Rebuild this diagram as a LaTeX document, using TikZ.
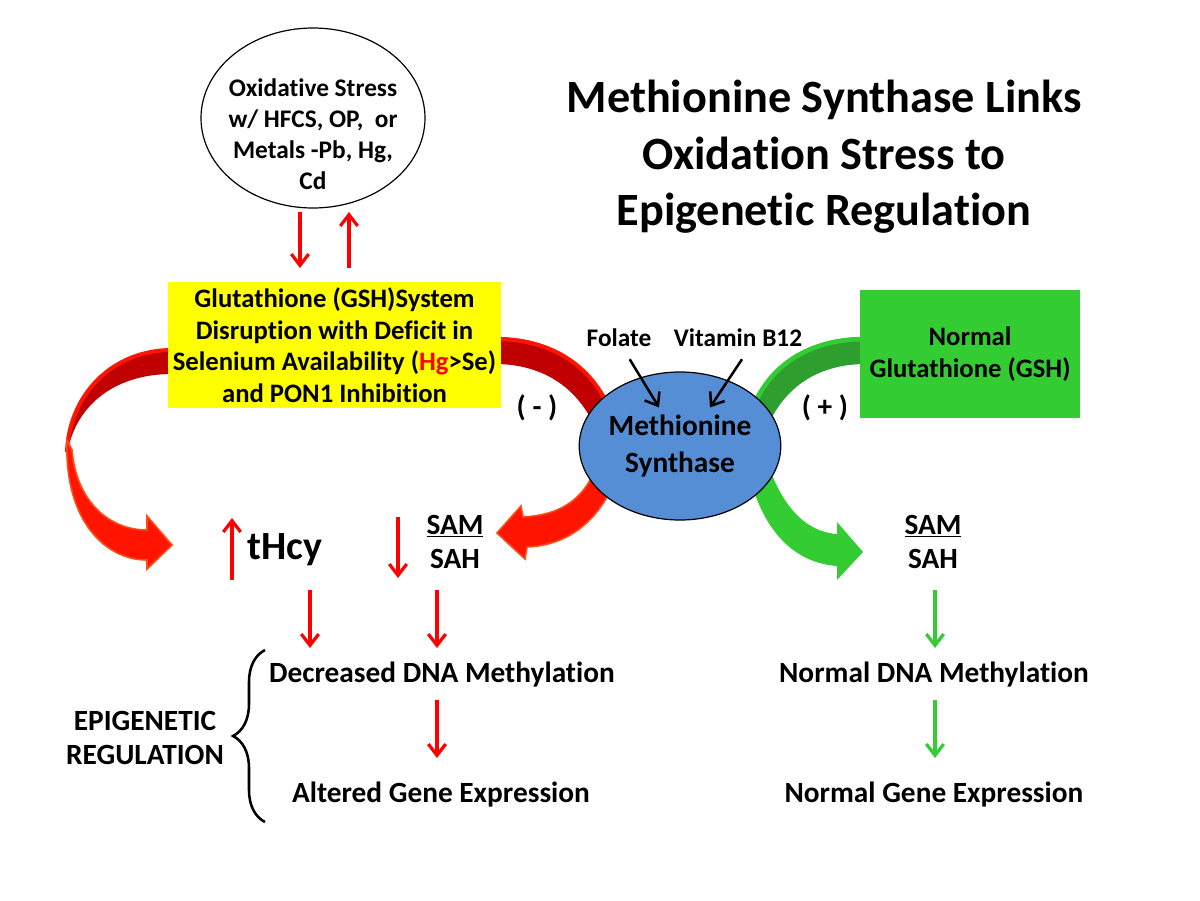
\documentclass[tikz,border=0pt]{standalone}
\usepackage{fontspec}
\setmainfont{Carlito}[Ligatures=NoCommon]
\usetikzlibrary{shapes.geometric,arrows.meta,decorations.pathreplacing}

\definecolor{arrred}{HTML}{FF0000}
\definecolor{arrgrn}{HTML}{33CC33}
\definecolor{ribdark}{HTML}{C00000}
\definecolor{ribred}{HTML}{FF1400}
\definecolor{ribrim}{HTML}{FF4B12}
\definecolor{grndark}{HTML}{2E9E2E}
\definecolor{gshyellow}{HTML}{FFFF00}
\definecolor{gshgreen}{HTML}{33CC33}
\definecolor{msblue}{HTML}{558ED5}

\tikzset{
  txt/.style={font=\bfseries\fontsize{22}{26}\selectfont, align=center, inner sep=0pt},
  boxtxt/.style={font=\bfseries\fontsize{20}{23.6}\selectfont, align=center, inner sep=0pt},
  smalltxt/.style={font=\bfseries\fontsize{19}{23.25}\selectfont, align=center, inner sep=0pt},
  redarr/.style={draw=arrred, line width=2.4pt, -{Straight Barb[length=8.5pt,width=13pt]}},
  grnarr/.style={redarr, draw=arrgrn},
  blkarr/.style={redarr, draw=black, line width=1.9pt},
  ribback/.style={fill=ribdark},
  ribfront/.style={fill=ribred, draw=ribrim, line width=1.2pt},
  ribedge/.style={draw=ribred, line width=3pt},
  grnback/.style={fill=grndark},
  grnfront/.style={fill=gshgreen},
  grnedge/.style={draw=gshgreen, line width=3.5pt}
}

\begin{document}
\begin{tikzpicture}[x=0.75pt,y=-0.75pt]

 \fill[white] (0,0) rectangle (1200,900);
 \useasboundingbox (0,0) rectangle (1200,900);

 \fill[ribback] (172,349) .. controls (112,349) and (69,395) .. (67,455) .. controls (74,408) and (112,374) .. (172,374) -- cycle;
 \draw[ribedge] (172,350) .. controls (112,350) and (69,395) .. (67,452);
 \filldraw[ribfront] (67,440) .. controls (64,520) and (105,560) .. (147,560) -- (147,569) -- (172,545) -- (147,516) -- (147,530) .. controls (108,530) and (76,500) .. (72,450) -- cycle;

 \fill[ribback] (495,337) .. controls (560,337) and (602,372) .. (618,430) -- (596,430) .. controls (580,390) and (545,364) .. (495,364) -- cycle;
 \draw[ribedge] (495,339) .. controls (560,339) and (602,374) .. (617,430);
 \filldraw[ribfront] (600,455) .. controls (588,500) and (560,515) .. (523,517) -- (521,506) -- (497,533) -- (525,559) -- (527,547) .. controls (575,545) and (608,512) .. (622,460) -- cycle;

 \fill[grnback] (866,337) .. controls (800,337) and (758,372) .. (745,430) -- (766,430) .. controls (782,390) and (815,364) .. (866,364) -- cycle;
 \draw[grnedge] (866,339) .. controls (800,339) and (758,374) .. (746,430);
 \fill[grnfront] (765,455) .. controls (780,505) and (805,532) .. (837,534) -- (837,522) -- (863,552) -- (837,580) -- (837,566) .. controls (795,563) and (762,532) .. (748,470) -- cycle;

 \node[draw=black, line width=0.9pt, fill=white, ellipse, minimum width=168pt, minimum height=135pt] (ox) at (313,118) {};

 \node[smalltxt] (oxt) at (313,134) {Oxidative Stress\\w/ HFCS, OP,~ or\\Metals -Pb, Hg,\\Cd};

 \node[font=\bfseries\fontsize{34.7}{42.4}\selectfont, align=center, inner sep=0pt] (ttl) at (824,157) {Methionine Synthase Links\\Oxidation Stress to\\Epigenetic Regulation};

 \node[boxtxt, fill=gshyellow, minimum width=249.75pt, minimum height=94.5pt] (gsh) at (334.5,345) {Glutathione (GSH)System\\Disruption with Deficit in\\Selenium Availability (\textcolor{arrred}{Hg}>Se)\\and PON1 Inhibition};

 \node[boxtxt, fill=gshgreen, minimum width=165pt, minimum height=96pt] (ngsh) at (970,354) {Normal\\Glutathione (GSH)};

 \node[txt, font=\bfseries\fontsize{22}{27.75}\selectfont, ellipse, draw=black, line width=0.9pt, fill=msblue, minimum width=150pt, minimum height=111pt] (ms) at (680,446) {Methionine\\Synthase};

 \node[smalltxt] (fol) at (619,338) {Folate};
 \node[smalltxt] (vit) at (738,338) {Vitamin B12};

 \node[txt] (neg) at (537,408) {( - )};
 \node[txt] (pos) at (825,408) {( + )};

 \node[txt, font=\bfseries\fontsize{30}{36}\selectfont] (thcy) at (285,550) {tHcy};

 \node[txt] (saml) at (455,542) {\underline{SAM}\\SAH};
 \node[txt] (samr) at (933,542) {\underline{SAM}\\SAH};

 \node[txt] (decr) at (442,675) {Decreased DNA Methylation};
 \node[txt] (altr) at (441,795) {Altered Gene Expression};

 \node[txt] (normd) at (934,675) {Normal DNA Methylation};
 \node[txt] (normg) at (934,795) {Normal Gene Expression};

 \node[txt] (epi) at (145,738) {EPIGENETIC\\REGULATION};

 \coordinate (xdn) at (300,0);
 \coordinate (xup) at (349,0);
 \coordinate (xh) at (310,0);
 \coordinate (xs) at (437,0);
 \coordinate (xn) at (935,0);
 \coordinate (upa) at (232,580);
 \coordinate (upb) at (232,518);
 \coordinate (dna) at (398,517);
 \coordinate (dnb) at (398,578);

 \draw[redarr, shorten <=70.5pt, shorten >=57.75pt] (ox -| xdn) -- (gsh -| xdn);
 \draw[redarr, shorten <=57.75pt, shorten >=70.5pt] (gsh -| xup) -- (ox -| xup);
 \draw[blkarr] ([xshift=8pt,yshift=-9pt]fol.south) -- ([xshift=-15.75pt,yshift=-27pt]ms.north);
 \draw[blkarr] ([xshift=3pt,yshift=-9pt]vit.south) -- ([xshift=22.5pt,yshift=-27pt]ms.north);
 \draw[redarr] (upa) -- (upb);
 \draw[redarr] (dna) -- (dnb);
 \draw[redarr, shorten <=30pt, shorten >=20.25pt] (thcy -| xh) -- (decr -| xh);
 \draw[redarr, shorten <=36pt, shorten >=20.25pt] (saml -| xs) -- (decr -| xs);
 \draw[redarr, shorten <=18.75pt, shorten >=27.75pt] (decr -| xs) -- (altr -| xs);
 \draw[grnarr, shorten <=36pt, shorten >=20.25pt] (samr -| xn) -- (normd -| xn);
 \draw[grnarr, shorten <=18.75pt, shorten >=27.75pt] (normd -| xn) -- (normg -| xn);
 \draw[line width=1.9pt, decorate, decoration={brace, amplitude=24pt}] (265,822) -- (265,650);

\end{tikzpicture}
\end{document}
